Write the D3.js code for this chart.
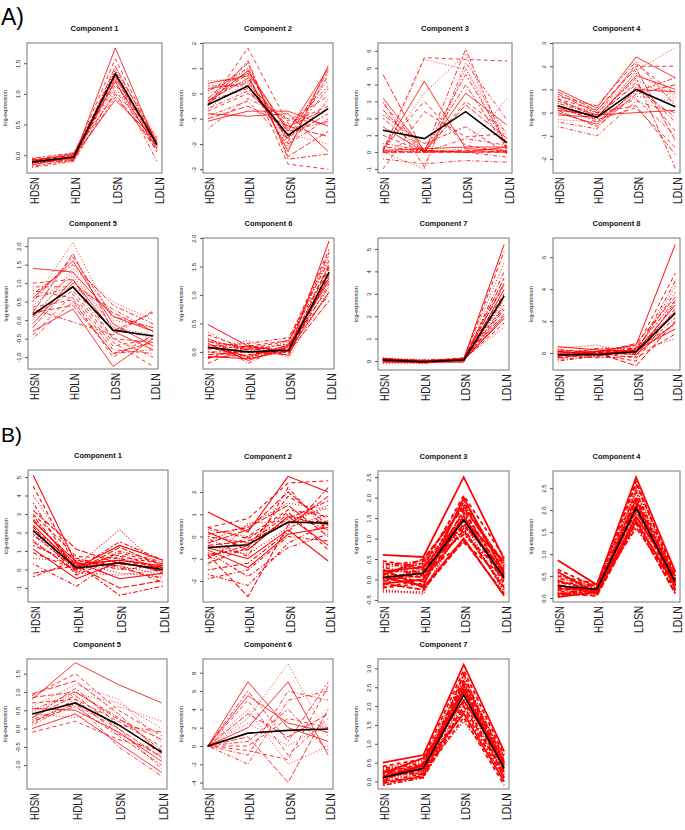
<!DOCTYPE html>
<html><head><meta charset="utf-8">
<script src="https://cdn.jsdelivr.net/npm/d3@7"></script>
<style>body{margin:0;background:#fff}svg{display:block}</style>
</head><body>
<script>
const categories = ["HDSN","HDLN","LDSN","LDLN"];

// ---------- Panel A ----------
const a1Lines = [
[-0.12,-0.05,1.75,0.15],[-0.10,-0.02,1.57,0.20],[-0.15,-0.06,1.40,0.25],[-0.08,0.00,1.36,0.18],
[-0.13,-0.03,1.30,0.12],[-0.18,-0.08,1.25,0.22],[-0.10,0.02,1.20,0.10],[-0.06,-0.01,1.15,0.28],
[-0.14,-0.04,1.10,0.16],[-0.20,-0.10,1.05,0.20],[-0.09,0.03,1.00,0.08],[-0.11,-0.07,0.95,0.14],
[-0.16,-0.02,0.90,0.24],[-0.07,-0.05,1.28,0.05],[-0.13,0.01,1.38,0.30],[-0.10,-0.04,1.22,-0.10],
[-0.12,-0.09,1.45,0.19],[-0.05,0.04,1.32,0.21]];
const a1Mean = [-0.11,-0.03,1.33,0.17];
const a1Ticks = [0.0,0.5,1.0,1.5];

const a2Lines = [
[-0.3,0.9,-1.5,1.0],[-0.5,1.8,-1.2,-0.5],[0.5,0.6,-2.2,0.8],[-1.4,-0.2,-1.0,-1.2],
[-0.2,1.2,-2.5,-1.5],[0.3,0.3,-1.8,0.2],[-0.8,-0.9,-0.8,-2.3],[-0.4,0.8,-2.8,-3.0],
[-0.6,0.5,-1.4,0.5],[0.1,1.0,-2.0,-0.3],[-1.0,-0.5,-1.3,-1.7],[-0.3,0.2,-1.7,-0.8],
[0.4,0.7,-2.3,1.1],[-0.7,0.0,-1.1,-0.1],[-0.2,1.0,-1.6,-2.0],[-0.9,-0.3,-2.0,-1.0],
[0.2,0.4,-1.3,-0.6],[-0.5,1.3,-2.6,-2.4],[-1.1,-0.7,-0.7,-1.3],[-0.4,0.9,-1.9,0.7],
[0.0,0.5,-2.1,-0.2],[-0.6,0.1,-1.5,-1.1],[-0.3,0.6,-1.8,0.9],[0.1,0.8,-1.4,0.3]];
const a2Mean = [-0.45,0.3,-1.65,-0.6];
const a2Ticks = [-3,-2,-1,0,1,2];

const a3Lines = [
[3.2,0.1,0.0,0.3],[0.1,5.6,5.5,5.4],[0.0,5.5,4.9,1.0],[3.0,-0.9,5.3,1.9],[4.6,0.0,0.1,0.0],
[2.0,0.0,6.1,0.2],[0.1,4.2,0.2,0.1],[-1.0,2.4,0.9,1.1],[0.1,0.0,0.2,3.2],[-0.4,-0.7,-0.5,-0.6],
[2.5,0.0,0.0,0.0],[0.0,0.1,4.0,0.2],[1.5,0.0,3.5,1.6],[0.2,3.0,0.4,0.0],[0.0,-1.0,5.0,0.1],
[2.9,0.0,0.8,0.4],[0.0,0.0,0.0,0.0],[0.3,0.1,4.6,0.5],[0.1,0.2,0.3,0.3],[1.0,0.0,3.0,1.2],
[0.0,3.5,5.8,0.0],[0.5,0.1,0.0,-0.3],[0.0,0.0,2.8,0.8],[2.2,0.5,1.5,-0.1]];
const a3Mean = [1.3,0.8,2.4,0.55];
const a3Ticks = [-1,0,1,2,3,4,5,6];

const a4Lines = [
[1.0,0.2,2.4,1.5],[0.5,-0.1,2.1,0.8],[0.2,-0.3,1.8,2.8],[-0.6,-1.0,0.5,0.0],[0.8,0.0,0.3,-1.8],
[0.3,-0.2,1.5,-2.4],[0.0,-0.5,1.0,0.9],[0.6,0.1,2.0,2.0],[-0.3,-0.4,0.7,0.5],[0.4,-0.1,1.2,-0.4],
[0.1,-0.6,0.8,1.2],[0.7,0.3,2.2,0.3],[-0.1,-0.2,1.6,1.0],[0.2,-0.3,0.2,-1.5],[0.5,0.0,1.4,0.6],
[-0.4,-0.7,1.1,-0.2],[0.9,0.1,1.9,-1.2],[0.3,-0.4,0.9,1.5],[0.1,-0.1,0.0,0.1],[0.6,-0.2,1.3,-0.8],
[0.4,0.0,1.7,0.7],[0.2,-0.2,0.6,-1.0]];
const a4Mean = [0.3,-0.2,1.0,0.25];
const a4Ticks = [-2,-1,0,1,2,3];

const a5Lines = [
[1.4,1.3,0.1,-0.3],[1.0,1.1,-0.5,-0.6],[0.5,2.1,0.0,-0.2],[-0.5,0.5,-0.9,-0.8],[0.2,1.8,-0.3,0.2],
[0.7,1.5,0.4,-0.1],[-0.3,0.3,-1.25,-0.5],[0.1,0.8,-0.6,-1.25],[0.4,1.2,-0.2,-0.4],[0.8,0.6,-0.8,-0.9],
[-0.2,1.0,0.2,-0.3],[0.3,-0.05,-0.4,0.25],[0.6,1.6,-0.1,-0.7],[-0.4,0.7,-0.7,-0.5],[0.0,1.4,0.5,0.0],
[0.9,0.9,-0.5,-1.0],[0.2,0.4,-0.9,-0.6],[0.5,1.7,0.1,-0.2],[-0.1,1.1,-0.3,-0.8],[0.35,0.55,-1.0,-0.4],
[0.1,1.3,-0.2,-0.5],[0.6,0.9,0.3,-0.3]];
const a5Mean = [0.15,0.9,-0.27,-0.43];
const a5Ticks = [-1.0,-0.5,0.0,0.5,1.0,1.5,2.0];

const a6Lines = [
[0.48,0.1,0.0,1.95],[0.3,0.05,0.2,1.8],[0.2,-0.1,0.1,1.7],[0.1,0.15,0.25,1.6],[-0.1,-0.05,0.05,1.5],
[0.0,0.0,-0.05,1.4],[0.15,-0.15,0.1,1.3],[-0.2,0.1,0.0,1.2],[0.05,0.2,-0.1,1.1],[0.25,-0.2,0.15,1.0],
[-0.05,0.0,0.0,0.9],[0.12,0.05,0.05,1.55],[0.08,-0.08,0.12,1.25],[-0.12,0.12,-0.02,1.45],
[0.35,0.0,0.18,1.65],[0.0,-0.1,0.08,1.15],[0.18,0.08,-0.06,1.35],[0.22,0.03,0.14,1.75],
[-0.08,-0.12,0.02,1.05],[0.05,0.1,0.2,1.5]];
const a6Mean = [0.08,0.0,0.03,1.4];
const a6Ticks = [0.0,0.5,1.0,1.5,2.0];

const a7Lines = [
[0.1,0.0,0.1,5.2],[0.0,-0.1,0.05,4.9],[0.15,0.05,0.12,4.4],[-0.05,0.0,0.0,4.0],[0.05,-0.08,0.1,3.7],
[0.1,0.02,0.05,3.5],[0.0,-0.05,-0.05,3.2],[0.12,0.0,0.15,3.0],[-0.1,-0.1,0.02,2.7],[0.05,0.05,0.08,2.5],
[0.08,-0.02,0.0,2.3],[0.0,0.0,0.1,2.1],[-0.05,-0.06,0.04,1.9],[0.1,0.03,0.06,1.7],[0.02,-0.04,0.12,1.5],
[0.06,0.01,-0.02,2.8],[0.0,-0.07,0.09,3.4],[0.04,-0.03,0.07,2.4],[0.09,0.0,0.03,2.0]];
const a7Mean = [0.05,-0.03,0.05,2.9];
const a7Ticks = [0,1,2,3,4,5];

const a8Lines = [
[0.0,0.1,0.5,6.8],[-0.2,0.0,0.3,5.0],[0.3,0.5,0.0,4.2],[-0.4,-0.2,0.2,3.8],[0.1,0.0,0.6,3.5],
[-0.1,-0.3,-0.2,3.2],[0.4,0.2,0.1,3.0],[-0.3,-0.1,-0.5,2.8],[0.0,0.1,0.4,2.5],[-0.5,-0.2,0.0,2.2],
[0.2,0.0,-0.8,2.0],[-0.2,0.3,0.3,1.8],[0.1,-0.1,0.2,1.5],[-0.1,0.0,-0.3,1.2],[0.0,-0.2,0.1,0.9],
[0.2,0.1,0.0,4.5],[-0.3,0.0,0.2,2.6],[0.1,-0.1,0.3,3.3],[-0.2,0.1,-0.1,1.9]];
const a8Mean = [-0.1,-0.1,0.08,2.5];
const a8Ticks = [0,2,4,6];

// ---------- Panel B ----------
const b1Lines = [
[5.1,0.3,0.5,0.2],[4.5,0.1,0.8,0.0],[4.0,0.5,0.2,-0.3],[3.6,-0.2,1.0,0.4],[3.2,1.1,0.3,0.1],
[2.9,0.0,1.5,0.5],[2.6,0.4,-0.5,-0.2],[2.3,-0.3,0.7,0.3],[2.0,0.2,2.15,0.0],[1.8,0.6,0.1,-0.5],
[1.5,-0.1,1.2,0.2],[1.3,0.3,-1.4,-0.9],[1.1,-0.5,0.4,-0.1],[0.9,0.0,0.9,0.3],[0.6,0.4,-0.2,-0.4],
[0.3,-0.9,0.6,0.1],[-0.2,0.2,-1.0,-0.6],[-0.4,0.5,0.0,0.2],[2.4,0.1,1.3,0.5],[3.0,0.7,0.6,-0.2],
[1.6,-0.2,-0.3,0.0],[2.2,0.3,0.2,-0.7],[2.7,0.2,0.5,0.1],[1.9,0.0,0.4,-0.1]];
const b1Mean = [2.1,0.08,0.35,0.0];
const b1Ticks = [-1,0,1,2,3,4,5];

const b2Lines = [
[1.1,0.2,2.7,2.0],[0.4,0.8,2.4,2.5],[-0.2,0.5,1.5,1.2],[-1.9,-1.5,0.0,-0.2],[-0.8,-2.7,0.5,1.8],
[0.0,-0.3,1.0,0.3],[-0.5,-1.0,0.3,-1.1],[-1.2,-0.5,1.8,0.8],[0.3,0.0,0.6,1.4],[-0.7,-1.8,-0.5,0.1],
[-0.3,0.3,2.0,0.5],[-1.5,-1.2,0.2,2.2],[0.2,-0.6,0.9,-0.4],[-1.0,0.0,1.2,0.9],[-0.4,-0.8,0.4,1.0],
[-1.7,-2.2,-0.3,0.6],[0.1,0.4,1.4,0.0],[-0.9,-0.4,0.8,1.6],[-0.6,-1.4,0.1,0.4],[0.4,-0.1,1.1,-0.6],
[-1.3,0.6,0.7,1.3],[-0.1,-0.9,2.2,0.2],[-0.4,-0.2,0.6,0.7],[-0.8,-0.6,0.9,0.5]];
const b2Mean = [-0.5,-0.37,0.65,0.6];
const b2Ticks = [-2,-1,0,1,2];

const b3Lines = [
[0.6,0.55,2.5,0.5],[0.45,0.3,2.05,0.55],[0.3,0.4,1.95,0.3],[0.2,0.2,1.85,0.2],[0.1,0.5,1.75,0.4],
[0.0,0.1,1.65,0.1],[-0.1,0.0,1.55,0.0],[-0.2,-0.1,1.5,-0.1],[-0.3,-0.3,1.4,-0.3],[0.4,0.25,1.3,0.25],
[0.15,0.05,1.2,-0.2],[-0.15,0.35,1.1,0.15],[0.25,-0.2,1.0,-0.4],[0.05,0.15,0.9,0.05],[-0.25,-0.35,1.6,-0.05],
[0.35,0.45,1.8,0.35],[-0.05,0.2,1.35,0.2],[0.1,-0.05,1.25,-0.25],[0.2,0.3,1.45,0.45],[-0.2,0.0,1.7,0.1],
[0.0,0.25,1.15,-0.15],[0.3,0.1,1.9,0.3],[-0.1,-0.25,0.95,-0.35],[0.15,0.4,1.5,0.0],[0.05,-0.15,2.0,0.15]];
const b3Mean = [0.05,0.15,1.45,0.05];
const b3Ticks = [-0.5,0.0,0.5,1.0,1.5,2.0,2.5];

const b4Lines = [
[0.86,0.3,2.75,0.6],[0.65,0.25,2.6,0.55],[0.55,0.2,2.5,0.5],[0.45,0.28,2.4,0.45],[0.4,0.15,2.3,0.4],
[0.35,0.22,2.2,0.35],[0.3,0.1,2.1,0.3],[0.25,0.18,2.0,0.25],[0.2,0.3,1.9,0.2],[0.15,0.12,1.8,0.15],
[0.1,0.05,1.7,0.1],[0.05,0.2,1.6,0.3],[0.02,0.14,1.85,0.5],[0.5,0.32,2.65,0.42],[0.12,0.08,2.45,0.22],
[0.38,0.26,1.95,0.58],[0.22,0.16,2.25,0.18],[0.08,0.24,2.05,0.35],[0.6,0.1,1.75,0.28],[0.18,0.2,2.15,0.48]];
const b4Mean = [0.28,0.2,2.05,0.37];
const b4Ticks = [0.0,0.5,1.0,1.5,2.0,2.5];

const b5Lines = [
[0.8,1.8,1.2,0.7],[0.9,1.5,0.5,-0.2],[0.6,1.2,0.8,-0.4],[0.5,1.0,0.3,-0.6],[0.3,0.9,0.0,-0.8],
[0.2,0.6,-0.2,-1.0],[0.0,0.4,-0.4,-1.2],[0.7,0.8,0.2,-0.5],[0.4,0.3,0.6,0.2],[0.1,0.7,-0.5,-1.3],
[0.95,1.3,0.4,-0.7],[0.3,1.1,0.1,-0.1],[0.55,0.5,-0.1,-0.9],[-0.1,0.2,-0.3,-0.6],[0.45,0.95,0.7,0.0],
[0.25,0.65,0.0,-1.1],[0.85,1.0,0.25,-0.3],[0.15,0.8,-0.15,-0.75]];
const b5Mean = [0.4,0.7,0.1,-0.65];
const b5Ticks = [-1.0,-0.5,0.0,0.5,1.0,1.5];

const b6Lines = [
[0.0,7.0,2.0,0.5],[0.0,5.0,-1.0,3.0],[0.0,3.0,9.0,1.0],[0.0,-2.0,5.0,6.0],[0.0,1.0,-4.0,4.0],
[0.0,6.0,0.5,7.0],[0.0,2.0,7.0,-1.0],[0.0,0.0,3.0,2.0],[0.0,4.0,-2.0,0.0],[0.0,-1.0,6.0,5.0],
[0.0,3.5,1.0,3.5],[0.0,0.5,4.0,-0.5],[0.0,5.5,2.5,1.5],[0.0,-0.5,-1.5,6.5],[0.0,2.5,0.0,2.5]];
const b6Mean = [0.0,1.4,1.7,1.85];
const b6Ticks = [-4,-2,0,2,4,6,8];

const b7Lines = [
[0.5,0.7,3.1,0.8],[0.4,0.6,2.95,0.7],[0.35,0.55,2.8,0.6],[0.3,0.5,2.7,0.55],[0.25,0.45,2.6,0.5],
[0.2,0.4,2.5,0.45],[0.15,0.35,2.4,0.4],[0.1,0.3,2.3,0.35],[0.05,0.25,2.2,0.3],[0.0,0.2,2.1,0.25],
[-0.05,0.15,2.0,0.2],[-0.1,0.1,1.9,0.1],[0.12,0.42,1.8,0.0],[0.28,0.18,1.7,-0.1],[0.08,0.32,1.6,0.15],
[0.38,0.28,2.65,0.65],[0.02,0.48,2.45,0.42],[0.18,0.22,2.85,0.28],[0.22,0.62,2.15,0.52],[-0.02,0.12,2.55,0.08]];
const b7Mean = [0.1,0.35,2.3,0.35];
const b7Ticks = [0.0,0.5,1.0,1.5,2.0,2.5,3.0];

// ---------- layout (positions only) ----------
const panels = [
 {t:"Component 1", L:a1Lines, M:a1Mean, T:a1Ticks, d:[-0.29,1.83], b:[27,43,162,173], w:1},
 {t:"Component 2", L:a2Lines, M:a2Mean, T:a2Ticks, d:[-3.15,2.0], b:[203,43,333,173], w:1},
 {t:"Component 3", L:a3Lines, M:a3Mean, T:a3Ticks, d:[-1.24,6.47], b:[378,43,512,173], w:1},
 {t:"Component 4", L:a4Lines, M:a4Mean, T:a4Ticks, d:[-2.6,3.0], b:[553,43,680,173], w:1},
 {t:"Component 5", L:a5Lines, M:a5Mean, T:a5Ticks, d:[-1.32,2.22], b:[28,238,158,369], w:1},
 {t:"Component 6", L:a6Lines, M:a6Mean, T:a6Ticks, d:[-0.3,2.0], b:[203,238,334,369], w:1.2},
 {t:"Component 7", L:a7Lines, M:a7Mean, T:a7Ticks, d:[-0.4,5.49], b:[378,238,509,370], w:1.2},
 {t:"Component 8", L:a8Lines, M:a8Mean, T:a8Ticks, d:[-1.06,7.2], b:[553,238,680,370], w:1.2},
 {t:"Component 1", L:b1Lines, M:b1Mean, T:b1Ticks, d:[-1.76,5.38], b:[28,470,168,602], w:1.3},
 {t:"Component 2", L:b2Lines, M:b2Mean, T:b2Ticks, d:[-2.94,2.94], b:[203,471,333,602], w:1.3},
 {t:"Component 3", L:b3Lines, M:b3Mean, T:b3Ticks, d:[-0.55,2.65], b:[378,471,509,602], w:2.2},
 {t:"Component 4", L:b4Lines, M:b4Mean, T:b4Ticks, d:[-0.09,2.89], b:[553,471,680,602], w:2.2},
 {t:"Component 5", L:b5Lines, M:b5Mean, T:b5Ticks, d:[-1.65,1.9], b:[27,659,167,789], w:1},
 {t:"Component 6", L:b6Lines, M:b6Mean, T:b6Ticks, d:[-4.7,9.5], b:[203,659,333,789], w:1},
 {t:"Component 7", L:b7Lines, M:b7Mean, T:b7Ticks, d:[-0.2,3.25], b:[378,659,509,789], w:2.2}
];

const dashes = [null,"4,3","1,2","1,2,4,2","6,2","2,2,5,2"];
const svg = d3.select("body").append("svg").attr("width",685).attr("height",830)
  .style("font-family","Liberation Sans, Arial, sans-serif");

svg.append("text").attr("x",1).attr("y",25).attr("font-size",23).text("A)");
svg.append("text").attr("x",1).attr("y",442).attr("font-size",21).text("B)");

panels.forEach(p => {
  const [x0,y0,x1,y1] = p.b;
  const x = d3.scaleLinear().domain([0.88,4.12]).range([x0,x1]);
  const y = d3.scaleLinear().domain(p.d).range([y1,y0]);
  const anyFrac = p.T.some(v => !Number.isInteger(v));
  const fmt = v => (anyFrac ? d3.format(".1f")(v) : d3.format("d")(v)).replace("−","-");
  const g = svg.append("g");
  const clipId = "c" + x0 + "_" + y0;
  g.append("clipPath").attr("id",clipId).append("rect")
    .attr("x",x0).attr("y",y0).attr("width",x1-x0).attr("height",y1-y0);
  const line = d3.line().x((d,i)=>x(i+1)).y(d=>y(d));
  const lg = g.append("g").attr("clip-path",`url(#${clipId})`);
  lg.selectAll("path.r").data(p.L).join("path").attr("class","r")
    .attr("d",line).attr("fill","none").attr("stroke","#ff0000")
    .attr("stroke-width",p.w*0.8).attr("stroke-dasharray",(d,i)=>dashes[i%dashes.length]);
  lg.append("path").datum(p.M).attr("d",line).attr("fill","none")
    .attr("stroke","#000").attr("stroke-width",1.6);
  // box
  g.append("rect").attr("x",x0).attr("y",y0).attr("width",x1-x0).attr("height",y1-y0)
    .attr("fill","none").attr("stroke","#777").attr("stroke-width",1);
  // y axis
  const ya = g.append("g").attr("transform",`translate(${x0},0)`)
    .call(d3.axisLeft(y).tickValues(p.T).tickFormat(fmt).tickSize(3).tickPadding(3));
  ya.select(".domain").remove();
  ya.selectAll(".tick line").attr("stroke","#555");
  ya.selectAll(".tick text").attr("font-size",6).attr("fill","#222")
    .attr("text-anchor","middle").attr("dy",0)
    .attr("transform","translate(-7,0) rotate(-90)").attr("x",0).attr("y",0);
  // y title
  g.append("text").attr("transform",`translate(${x0-20},${(y0+y1)/2}) rotate(-90)`)
    .attr("text-anchor","middle").attr("font-size",5.5).attr("fill","#222").text("log-expression");
  // x labels
  const xa = g.append("g").attr("transform",`translate(0,${y1})`)
    .call(d3.axisBottom(x).tickValues([1,2,3,4]).tickFormat((d)=>categories[d-1]).tickSize(0));
  xa.select(".domain").remove();
  xa.selectAll(".tick text").attr("font-size",12.5).attr("fill","#222")
    .attr("text-anchor","end").attr("dy",0).attr("y",0)
    .attr("textLength",27).attr("lengthAdjust","spacingAndGlyphs")
    .attr("transform","translate(6,4) rotate(-90)");
  // title
  g.append("text").attr("x",(x0+x1)/2).attr("y",y0-12).attr("text-anchor","middle")
    .attr("font-size",7.5).attr("font-weight","bold").attr("fill","#111").text(p.t);
});
</script>
</body></html>
